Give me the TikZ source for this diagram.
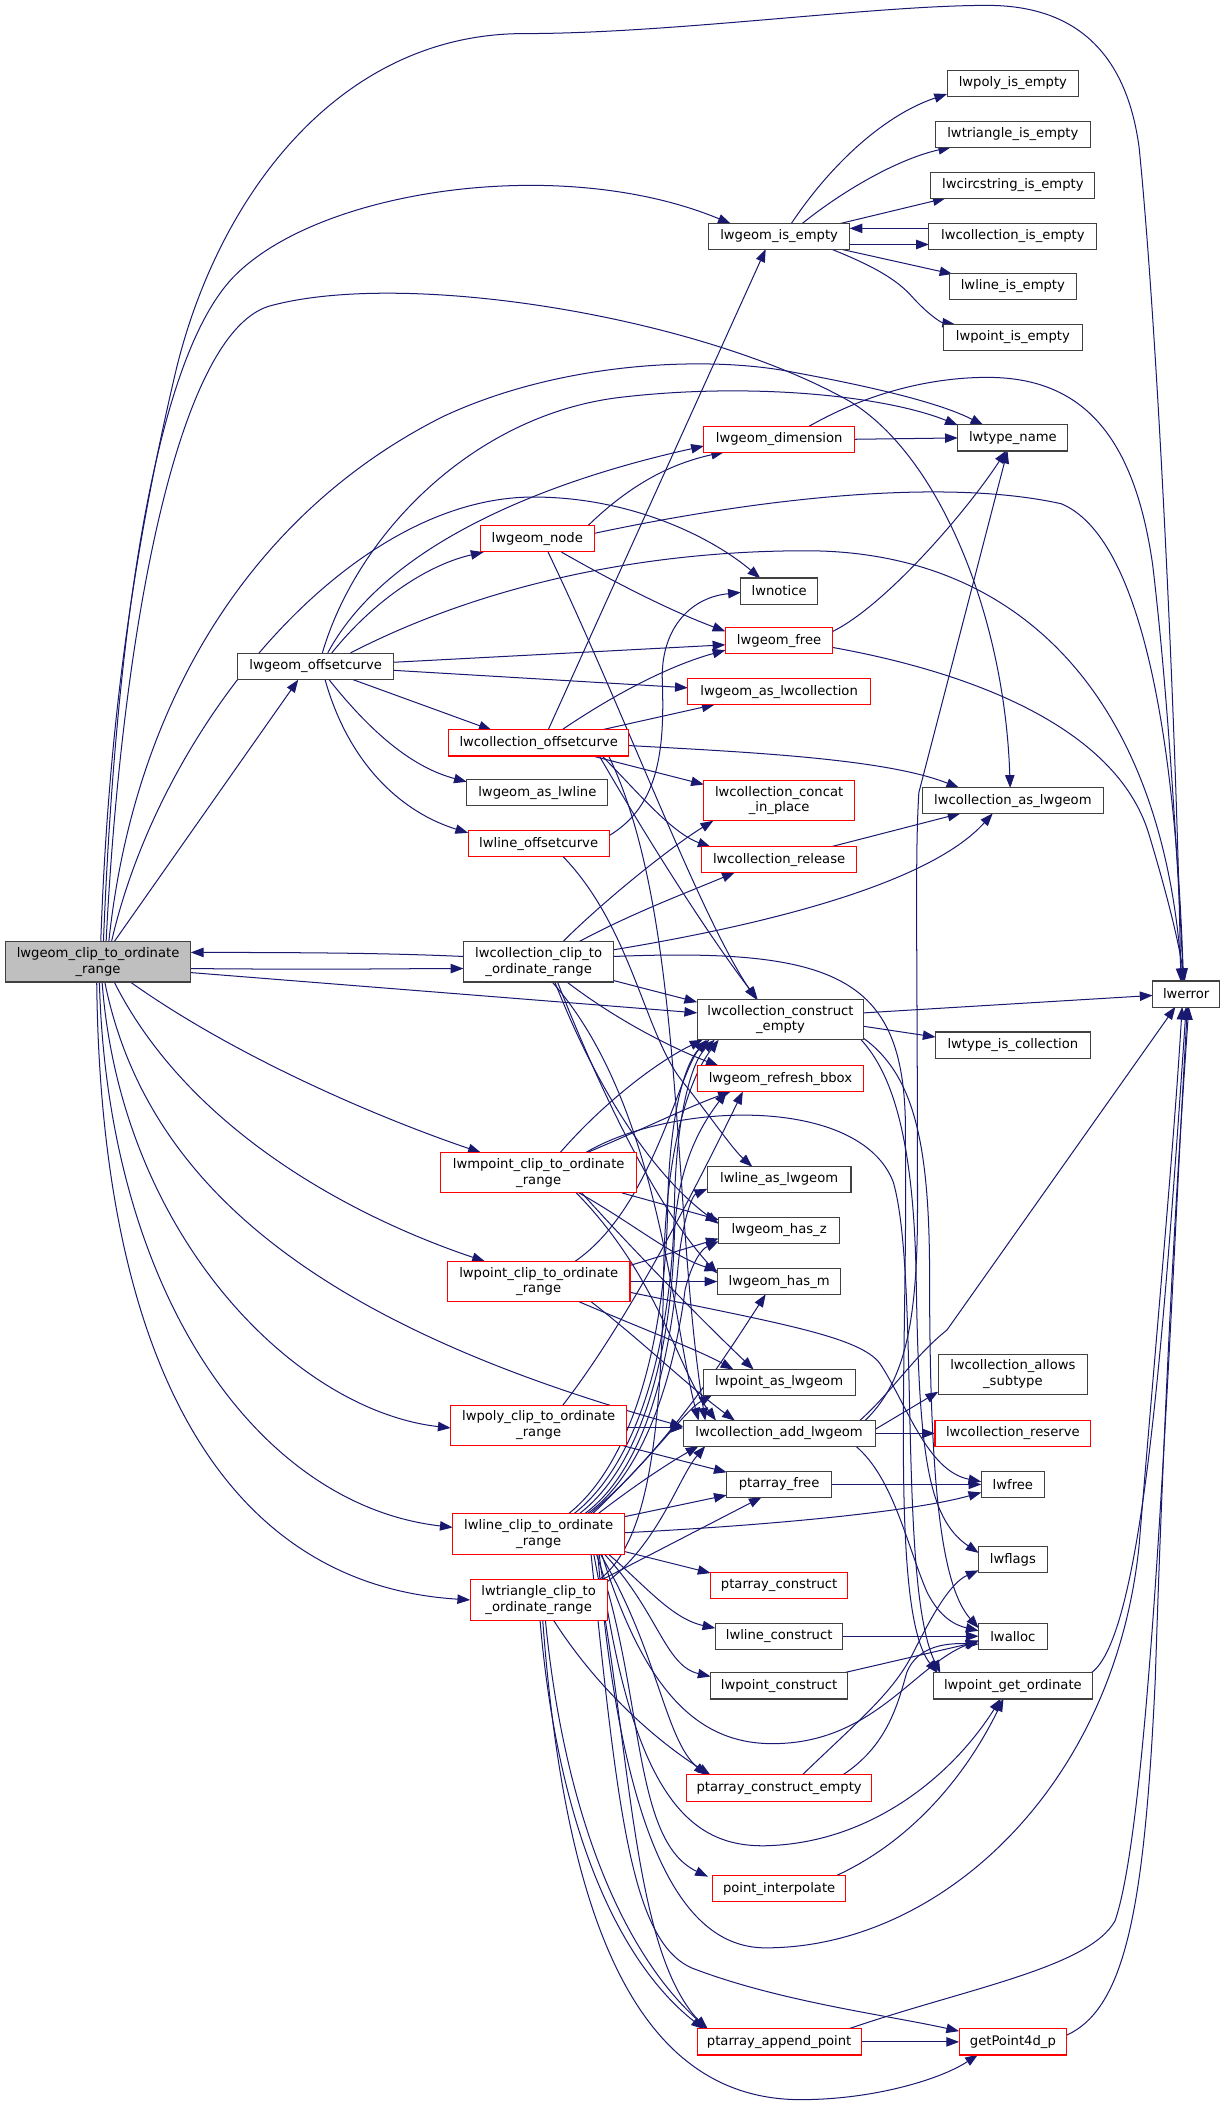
\documentclass[tikz,border=0pt]{standalone}
\usepackage{fontspec}
\setmainfont{DejaVu Sans}
\usetikzlibrary{arrows.meta,calc}
\definecolor{edgec}{HTML}{191970}
\definecolor{boxgray}{HTML}{404040}
\definecolor{boxred}{HTML}{FF0000}
\definecolor{rootfill}{HTML}{BFBFBF}
\pgfdeclarelayer{bg}
\pgfsetlayers{bg,main}
\tikzset{
 fn/.style={font=\fontsize{9.8}{11.7}\selectfont},
 box/.style={draw=boxgray, line width=0.8pt, fill=white, inner sep=0pt, minimum height=19.5pt, align=center, fn},
 rbox/.style={box, draw=boxred},
 dbox/.style={box, minimum height=30pt},
 drbox/.style={rbox, minimum height=30pt},
 ed/.style={draw=edgec, line width=0.75pt, -{Triangle[length=9.5pt,width=7pt]}},
}
\begin{document}
\begin{tikzpicture}[x=1pt,y=-1pt]
\useasboundingbox (0,0) rectangle (912,1567);
% column 1-3
\node[dbox, fill=rootfill, minimum width=138pt] (root) at (73,716) {lwgeom\_clip\_to\_ordinate\\\_range};
\node[box, minimum width=116pt] (off) at (235,496) {lwgeom\_offsetcurve};
\node[rbox, minimum width=85pt] (lnode) at (400,401) {lwgeom\_node};
\node[rbox, minimum width=134pt] (coff) at (401,553) {lwcollection\_offsetcurve};
\node[box, minimum width=105pt] (aslwline) at (400,590) {lwgeom\_as\_lwline};
\node[rbox, minimum width=105pt] (loff) at (401,628) {lwline\_offsetcurve};
\node[dbox, minimum width=112pt] (cclip) at (401,716) {lwcollection\_clip\_to\\\_ordinate\_range};
\node[drbox, minimum width=146pt] (mpclip) at (401,873) {lwmpoint\_clip\_to\_ordinate\\\_range};
\node[drbox, minimum width=136pt] (pclip) at (401,954) {lwpoint\_clip\_to\_ordinate\\\_range};
\node[drbox, minimum width=131pt] (polyclip) at (401,1061) {lwpoly\_clip\_to\_ordinate\\\_range};
\node[drbox, minimum width=128pt] (lclip) at (401,1142) {lwline\_clip\_to\_ordinate\\\_range};
\node[drbox, minimum width=102pt] (tclip) at (401,1191) {lwtriangle\_clip\_to\\\_ordinate\_range};
% column 4
\node[box, minimum width=105pt] (isempty) at (580,176) {lwgeom\_is\_empty};
\node[rbox, minimum width=112pt] (dim) at (580,327) {lwgeom\_dimension};
\node[box, minimum width=57pt] (notice) at (580,440) {lwnotice};
\node[rbox, minimum width=80pt] (free) at (580,477) {lwgeom\_free};
\node[rbox, minimum width=136pt] (aslwcoll) at (580,515) {lwgeom\_as\_lwcollection};
\node[drbox, minimum width=112pt] (concat) at (580,596) {lwcollection\_concat\\\_in\_place};
\node[rbox, minimum width=115pt] (release) at (580,640) {lwcollection\_release};
\node[dbox, minimum width=124pt] (cce) at (581,759) {lwcollection\_construct\\\_empty};
\node[rbox, minimum width=124pt] (refresh) at (581,803) {lwgeom\_refresh\_bbox};
\node[box, minimum width=107pt] (llasg) at (580,878) {lwline\_as\_lwgeom};
\node[box, minimum width=90pt] (hasz) at (580,916) {lwgeom\_has\_z};
\node[box, minimum width=92pt] (hasm) at (580,954) {lwgeom\_has\_m};
\node[box, minimum width=113pt] (pasg) at (580,1029) {lwpoint\_as\_lwgeom};
\node[box, minimum width=143pt] (addg) at (580,1067) {lwcollection\_add\_lwgeom};
\node[box, minimum width=78pt] (pfree) at (580,1105) {ptarray\_free};
\node[rbox, minimum width=102pt] (pconst) at (580,1180) {ptarray\_construct};
\node[box, minimum width=95pt] (lconst) at (580,1218) {lwline\_construct};
\node[box, minimum width=102pt] (ptconst) at (580,1255) {lwpoint\_construct};
\node[rbox, minimum width=138pt] (pce) at (580,1331) {ptarray\_construct\_empty};
\node[rbox, minimum width=99pt] (pinterp) at (580,1406) {point\_interpolate};
\node[rbox, minimum width=122pt] (pappend) at (580,1520) {ptarray\_append\_point};
% column 5
\node[box, minimum width=98pt] (polye) at (754,62) {lwpoly\_is\_empty};
\node[box, minimum width=115pt] (trie) at (754,100) {lwtriangle\_is\_empty};
\node[box, minimum width=122pt] (circe) at (754,138) {lwcircstring\_is\_empty};
\node[box, minimum width=125pt] (colle) at (754,176) {lwcollection\_is\_empty};
\node[box, minimum width=95pt] (linee) at (754,213) {lwline\_is\_empty};
\node[box, minimum width=103pt] (pointe) at (754,251) {lwpoint\_is\_empty};
\node[box, minimum width=82pt] (tname) at (754,326) {lwtype\_name};
\node[box, minimum width=135pt] (cas) at (754,596) {lwcollection\_as\_lwgeom};
\node[box, minimum width=115pt] (typecoll) at (754,778) {lwtype\_is\_collection};
\node[dbox, minimum width=111pt] (allows) at (754,1023) {lwcollection\_allows\\\_subtype};
\node[rbox, minimum width=116pt] (reserve) at (754,1067) {lwcollection\_reserve};
\node[box, minimum width=47pt] (lwfree) at (754,1105) {lwfree};
\node[box, minimum width=51pt] (lwflags) at (754,1161) {lwflags};
\node[box, minimum width=51pt] (lwalloc) at (754,1218) {lwalloc};
\node[box, minimum width=118pt] (getord) at (754,1255) {lwpoint\_get\_ordinate};
\node[rbox, minimum width=80pt] (g4d) at (754,1520) {getPoint4d\_p};
\node[box, minimum width=50pt] (lwerror) at (883,740) {lwerror};

\begin{pgfonlayer}{bg}
% root
\draw[ed] ($(root)+(2,-15)$) .. controls (80,560) and (95,430) .. (130,280) .. controls (160,150) and (250,25) .. (390,25) .. controls (500,25) and (650,4) .. (735,4) .. controls (810,4) and (840,50) .. (848,110) .. controls (862,250) and (876,550) .. ($(lwerror)+(-4,-9.5)$);
\draw[ed] ($(root)+(4,-15)$) .. controls (85,500) and (110,270) .. (175,205) .. controls (240,140) and (420,115) .. ($(isempty)+(-36,-9.5)$);
\draw[ed] ($(root)+(6,-15)$) .. controls (90,480) and (130,250) .. (200,228) .. controls (300,200) and (520,235) .. (633,299) .. controls (700,340) and (748,460) .. ($(cas)+(-2,-9.5)$);
\draw[ed] ($(root)+(8,-15)$) .. controls (100,520) and (190,380) .. (330,310) .. controls (420,268) and (530,265) .. (590,277) .. controls (650,288) and (700,300) .. ($(tname)+(-22,-9.5)$);
\draw[ed] ($(root)+(10,-15)$) .. controls (120,540) and (260,370) .. (397,370) .. controls (470,370) and (530,400) .. ($(notice)+(-14,-9.5)$);
\draw[ed] ($(root)+(12,-15)$) -- ($(off)+(-13,10)$);
\draw[ed] ($(root)+(69,5)$) .. controls (250,722) and (300,721) .. ($(cclip)+(-56,5)$);
\draw[ed] ($(cclip)+(-56,-4)$) .. controls (300,710) and (250,709) .. ($(root)+(69,-7)$);
\draw[ed] ($(root)+(69,8)$) -- ($(cce)+(-62,-5)$);
\draw[ed] ($(root)+(24,15)$) .. controls (180,790) and (290,835) .. ($(mpclip)+(-43,-15)$);
\draw[ed] ($(root)+(12,15)$) .. controls (140,840) and (260,905) .. ($(pclip)+(-40,-15)$);
\draw[ed] ($(root)+(5,15)$) .. controls (110,890) and (250,990) .. ($(addg)+(-71.5,-5)$);
\draw[ed] ($(root)+(3,15)$) .. controls (90,920) and (220,1050) .. ($(polyclip)+(-65.5,2)$);
\draw[ed] ($(root)+(1,15)$) .. controls (80,960) and (190,1120) .. ($(lclip)+(-64,-5)$);
\draw[ed] ($(root)+(-1,15)$) .. controls (75,1020) and (170,1180) .. ($(tclip)+(-51,0)$);
% offsetcurve
\draw[ed] ($(off)+(5,-10)$) .. controls (265,400) and (350,310) .. (460,296) .. controls (560,284) and (660,295) .. ($(tname)+(-41,-9.5)$);
\draw[ed] ($(off)+(9,-10)$) .. controls (290,400) and (420,355) .. ($(dim)+(-56,5)$);
\draw[ed] ($(off)+(12,-10)$) .. controls (280,445) and (320,420) .. ($(lnode)+(-40,10)$);
\draw[ed] ($(off)+(26,-10)$) .. controls (360,435) and (480,410) .. (600,410) .. controls (760,410) and (865,520) .. ($(lwerror)+(-3,-9.5)$);
\draw[ed] ($(off)+(58,-3)$) -- ($(free)+(-40,3)$);
\draw[ed] ($(off)+(58,3)$) -- ($(aslwcoll)+(-68,-3)$);
\draw[ed] ($(off)+(28,10)$) -- ($(coff)+(-35,-9.5)$);
\draw[ed] ($(off)+(10,10)$) .. controls (280,550) and (310,572) .. ($(aslwline)+(-52.5,-8)$);
\draw[ed] ($(off)+(7,10)$) .. controls (260,570) and (300,605) .. ($(loff)+(-52.5,-8)$);
% lwgeom_node
\draw[ed] ($(lnode)+(38,-10)$) .. controls (470,360) and (500,345) .. ($(dim)+(-41,9.5)$);
\draw[ed] ($(lnode)+(42.5,-4)$) .. controls (560,372) and (700,355) .. (790,375) .. controls (850,400) and (875,550) .. ($(lwerror)+(-2,-9.5)$);
\draw[ed] ($(lnode)+(18,10)$) .. controls (460,435) and (500,455) .. ($(free)+(-40,-7)$);
\draw[ed] ($(lnode)+(8,10)$) .. controls (465,530) and (520,680) .. ($(cce)+(-18,-15)$);
% lwcollection_offsetcurve
\draw[ed] ($(coff)+(7,-9.5)$) -- ($(isempty)+(-10,9.5)$);
\draw[ed] ($(coff)+(17,-9.5)$) .. controls (460,515) and (500,495) .. ($(free)+(-40,7)$);
\draw[ed] ($(coff)+(46,-9.5)$) -- ($(aslwcoll)+(-48,9.5)$);
\draw[ed] ($(coff)+(67,2)$) .. controls (560,560) and (660,565) .. ($(cas)+(-40,-9.5)$);
\draw[ed] ($(coff)+(39,9.5)$) -- ($(concat)+(-56,-12)$);
\draw[ed] ($(coff)+(47,9.5)$) .. controls (475,590) and (500,620) .. ($(release)+(-51,-9.5)$);
\draw[ed] ($(coff)+(45,9.5)$) .. controls (485,630) and (530,700) .. ($(cce)+(-17,-15)$);
\draw[ed] ($(coff)+(52,9.5)$) .. controls (510,680) and (500,900) .. ($(addg)+(-55,-9.5)$);
% lwline_offsetcurve
\draw[ed] ($(loff)+(52.5,-6)$) .. controls (490,600) and (495,560) .. (493,506) .. controls (492,470) and (512,445) .. ($(notice)+(-28.5,1)$);
\draw[ed] ($(loff)+(18,9.5)$) .. controls (470,690) and (480,770) .. (508,805) .. controls (528,830) and (545,855) .. ($(llasg)+(-20,-9.5)$);
% lwcollection_clip_to
\draw[ed] ($(cclip)+(18,-15)$) .. controls (450,670) and (500,630) .. ($(concat)+(-49,15)$);
\draw[ed] ($(cclip)+(30,-15)$) .. controls (470,680) and (510,665) .. ($(release)+(-33,9.5)$);
\draw[ed] ($(cclip)+(56,-9)$) .. controls (560,690) and (690,660) .. ($(cas)+(-15,9.5)$);
\draw[ed] ($(cclip)+(56,-4)$) .. controls (630,705) and (676,730) .. (674,850) .. controls (676,1000) and (662,1200) .. ($(getord)+(-56,-9.5)$);
\draw[ed] ($(cclip)+(56,14)$) -- ($(cce)+(-62,-13)$);
\draw[ed] ($(cclip)+(21,15)$) .. controls (460,760) and (500,780) .. ($(refresh)+(-46,-9.5)$);
\draw[ed] ($(cclip)+(12,15)$) .. controls (440,800) and (480,870) .. ($(hasz)+(-45,-5)$);
\draw[ed] ($(cclip)+(14,15)$) .. controls (450,820) and (490,900) .. ($(hasm)+(-46,-6)$);
\draw[ed] ($(cclip)+(10,15)$) .. controls (490,820) and (500,980) .. ($(addg)+(-60,-9.5)$);
% lwmpoint_clip
\draw[ed] ($(mpclip)+(16,-15)$) .. controls (450,820) and (490,790) .. ($(cce)+(-58,15)$);
\draw[ed] ($(mpclip)+(36,-15)$) .. controls (480,840) and (510,825) .. ($(refresh)+(-37,9.5)$);
\draw[ed] ($(mpclip)+(35,-15)$) .. controls (500,820) and (640,815) .. (665,880) .. controls (685,950) and (668,1180) .. ($(getord)+(-54,-9.5)$);
\draw[ed] ($(mpclip)+(62,15)$) -- ($(hasz)+(-45,-8)$);
\draw[ed] ($(mpclip)+(30,15)$) .. controls (470,910) and (500,935) .. ($(hasm)+(-46,-8)$);
\draw[ed] ($(mpclip)+(32,15)$) .. controls (480,940) and (530,990) .. ($(pasg)+(-19,-9.5)$);
\draw[ed] ($(mpclip)+(28,15)$) .. controls (490,950) and (505,1020) .. ($(addg)+(-47,-9.5)$);
% lwpoint_clip
\draw[ed] ($(pclip)+(27,-15)$) .. controls (485,900) and (505,800) .. ($(cce)+(-55,15)$);
\draw[ed] ($(pclip)+(68,-12)$) -- ($(hasz)+(-45,6)$);
\draw[ed] ($(pclip)+(68,0)$) -- ($(hasm)+(-46,0)$);
\draw[ed] ($(pclip)+(30,15)$) .. controls (480,990) and (520,1005) .. ($(pasg)+(-34,-9.5)$);
\draw[ed] ($(pclip)+(39,15)$) .. controls (480,1000) and (510,1030) .. ($(addg)+(-33,-9.5)$);
\draw[ed] ($(pclip)+(68,8)$) .. controls (580,985) and (640,995) .. (655,1015) .. controls (675,1045) and (690,1095) .. ($(lwfree)+(-23.5,-2)$);
% lwpoly_clip
\draw[ed] ($(polyclip)+(18,-15)$) .. controls (470,980) and (520,880) .. ($(refresh)+(-28,9.5)$);
\draw[ed] ($(polyclip)+(65.5,2)$) -- ($(addg)+(-71.5,-4)$);
\draw[ed] ($(polyclip)+(62,15)$) -- ($(pfree)+(-39,-9)$);
% lwline_clip
\draw[ed] ($(lclip)+(22,-15)$) .. controls (470,1090) and (495,1000) .. (497,900) .. controls (498,830) and (510,790) .. ($(cce)+(-53,15)$);
\draw[ed] ($(lclip)+(26,-15)$) .. controls (475,1090) and (500,1000) .. (502,900) .. controls (503,830) and (515,790) .. ($(cce)+(-49,15)$);
\draw[ed] ($(lclip)+(30,-15)$) .. controls (480,1090) and (500,1000) .. (502,920) .. controls (504,870) and (520,840) .. ($(refresh)+(-40,9.5)$);
\draw[ed] ($(lclip)+(34,-15)$) .. controls (485,1090) and (500,1000) .. (505,940) .. controls (508,910) and (515,890) .. ($(llasg)+(-53.5,7)$);
\draw[ed] ($(lclip)+(36,-15)$) .. controls (488,1090) and (505,1000) .. (510,960) .. controls (515,940) and (522,930) .. ($(hasz)+(-45,8)$);
\draw[ed] ($(lclip)+(38,-15)$) .. controls (495,1080) and (540,1010) .. ($(hasm)+(-10,9.5)$);
\draw[ed] ($(lclip)+(40,-15)$) .. controls (490,1080) and (510,1050) .. ($(pasg)+(-50,9.5)$);
\draw[ed] ($(lclip)+(44,-15)$) .. controls (480,1100) and (505,1085) .. ($(addg)+(-60,9.5)$);
\draw[ed] ($(lclip)+(64,-13)$) -- ($(pfree)+(-39,8)$);
\draw[ed] ($(lclip)+(64,-1)$) .. controls (580,1135) and (680,1125) .. ($(lwfree)+(-23.5,6)$);
\draw[ed] ($(lclip)+(64,13)$) -- ($(pconst)+(-51,-9)$);
\draw[ed] ($(lclip)+(52,15)$) .. controls (480,1180) and (500,1205) .. ($(lconst)+(-47.5,-6)$);
\draw[ed] ($(lclip)+(49,15)$) .. controls (490,1200) and (495,1240) .. ($(ptconst)+(-51,-7)$);
\draw[ed] ($(lclip)+(46,15)$) .. controls (490,1230) and (495,1295) .. ($(pce)+(-54,-9.5)$);
\draw[ed] ($(lclip)+(43,15)$) .. controls (480,1260) and (470,1370) .. ($(pinterp)+(-53,-9)$);
\draw[ed] ($(lclip)+(41,15)$) .. controls (470,1300) and (470,1450) .. ($(pappend)+(-54,-9.5)$);
\draw[ed] ($(lclip)+(39,15)$) .. controls (460,1350) and (470,1445) .. (515,1465) .. controls (580,1490) and (660,1500) .. ($(g4d)+(-40,-8)$);
\draw[ed] ($(lclip)+(47,15)$) .. controls (480,1260) and (520,1298) .. (575,1298) .. controls (650,1298) and (680,1240) .. ($(lwalloc)+(-25.5,3)$);
\draw[ed] ($(lclip)+(45,15)$) .. controls (470,1340) and (515,1375) .. (570,1374) .. controls (650,1372) and (710,1320) .. ($(getord)+(-9,9.5)$);
\draw[ed] ($(lclip)+(44,15)$) .. controls (465,1400) and (520,1450) .. (570,1450) .. controls (700,1450) and (830,1330) .. (848,1150) .. controls (862,980) and (874,850) .. ($(lwerror)+(-3,9.5)$);
% lwtriangle_clip
\draw[ed] ($(tclip)+(45,-15)$) .. controls (480,1150) and (492,1080) .. (494,950) .. controls (495,850) and (515,800) .. ($(cce)+(-46,15)$);
\draw[ed] ($(tclip)+(49,-12)$) .. controls (490,1150) and (505,1100) .. ($(addg)+(-55,9.5)$);
\draw[ed] ($(tclip)+(47,-15)$) -- ($(pfree)+(-13,9.5)$);
\draw[ed] ($(tclip)+(11,15)$) .. controls (440,1250) and (480,1290) .. ($(pce)+(-51,-9.5)$);
\draw[ed] ($(tclip)+(1,15)$) .. controls (415,1360) and (460,1460) .. ($(pappend)+(-56,-9.5)$);
\draw[ed] ($(tclip)+(5,15)$) .. controls (421,1360) and (468,1458) .. ($(pappend)+(-53,-9.5)$);
\draw[ed] ($(tclip)+(3,15)$) .. controls (420,1420) and (470,1563) .. (596,1563) .. controls (650,1563) and (700,1548) .. ($(g4d)+(-26,9.5)$);
% lwgeom_is_empty
\draw[ed] ($(isempty)+(9,-9.5)$) .. controls (620,120) and (660,85) .. ($(polye)+(-49,8)$);
\draw[ed] ($(isempty)+(17,-9.5)$) .. controls (630,140) and (670,118) .. ($(trie)+(-46,9.5)$);
\draw[ed] ($(isempty)+(45,-9.5)$) -- ($(circe)+(-50,9.5)$);
\draw[ed] ($(isempty)+(52.5,6)$) -- ($(colle)+(-62.5,6)$);
\draw[ed] ($(colle)+(-62.5,-6)$) -- ($(isempty)+(52.5,-6)$);
\draw[ed] ($(isempty)+(46,9.5)$) -- ($(linee)+(-45,-9)$);
\draw[ed] ($(isempty)+(39,9.5)$) .. controls (650,198) and (668,208) .. (680,222) .. controls (690,233) and (700,240) .. ($(pointe)+(-43,-9.5)$);
% dimension, free, release
\draw[ed] ($(dim)+(56,0)$) -- ($(tname)+(-41,0)$);
\draw[ed] ($(dim)+(22,-9.5)$) .. controls (650,290) and (700,280) .. (740,281) .. controls (810,283) and (845,330) .. (858,420) .. controls (870,520) and (877,650) .. ($(lwerror)+(-2,-9.5)$);
\draw[ed] ($(free)+(40,-7)$) .. controls (660,450) and (720,380) .. ($(tname)+(-5,9.5)$);
\draw[ed] ($(free)+(40,5)$) .. controls (720,500) and (830,540) .. (855,620) .. controls (870,670) and (877,700) .. ($(lwerror)+(-1,-9.5)$);
\draw[ed] ($(release)+(38,-9.5)$) -- ($(cas)+(-39,9.5)$);
% construct_empty
\draw[ed] ($(cce)+(62,-5)$) -- ($(lwerror)+(-25,1)$);
\draw[ed] ($(cce)+(62,5)$) -- ($(typecoll)+(-57.5,-6)$);
\draw[ed] ($(cce)+(60,15)$) .. controls (665,800) and (680,850) .. (682,950) .. controls (684,1080) and (690,1130) .. ($(lwflags)+(-25.5,-5)$);
\draw[ed] ($(cce)+(62,14)$) .. controls (680,800) and (692,850) .. (692,950) .. controls (692,1100) and (700,1180) .. ($(lwalloc)+(-25.5,-6)$);
% add_lwgeom
\draw[ed] ($(addg)+(60,-9.5)$) .. controls (665,1035) and (680,1010) .. (705,990) -- ($(lwerror)+(-8,9.5)$);
\draw[ed] ($(addg)+(71.5,-3)$) -- ($(allows)+(-55.5,13)$);
\draw[ed] ($(addg)+(71.5,0)$) -- ($(reserve)+(-58,0)$);
\draw[ed] ($(addg)+(64,-9.5)$) .. controls (672,1030) and (683,990) .. (683,900) .. controls (683,700) and (681,640) .. (684,590) -- ($(tname)+(-4,9.5)$);
\draw[ed] ($(addg)+(57,9.5)$) .. controls (665,1100) and (675,1150) .. (690,1185) .. controls (700,1205) and (712,1210) .. ($(lwalloc)+(-25.5,-4)$);
% lower column 4
\draw[ed] ($(pfree)+(39,0)$) -- ($(lwfree)+(-23.5,0)$);
\draw[ed] ($(lconst)+(47.5,0)$) -- ($(lwalloc)+(-25.5,0)$);
\draw[ed] ($(ptconst)+(47,-9.5)$) -- ($(lwalloc)+(-25.5,4)$);
\draw[ed] ($(pce)+(17,-9.5)$) .. controls (640,1280) and (665,1260) .. (680,1230) .. controls (695,1200) and (708,1178) .. ($(lwflags)+(-25.5,8)$);
\draw[ed] ($(pce)+(47,-9.5)$) .. controls (660,1300) and (668,1270) .. (675,1245) .. controls (683,1225) and (705,1223) .. ($(lwalloc)+(-25.5,6)$);
\draw[ed] ($(pinterp)+(42,-9.5)$) .. controls (680,1370) and (720,1320) .. ($(getord)+(-7,9.5)$);
\draw[ed] ($(pappend)+(61,0)$) -- ($(g4d)+(-40,0)$);
\draw[ed] ($(pappend)+(51,-9.5)$) .. controls (720,1480) and (810,1465) .. (830,1430) .. controls (858,1350) and (872,950) .. ($(lwerror)+(1,9.5)$);
\draw[ed] ($(g4d)+(40,-5)$) .. controls (838,1495) and (852,1420) .. (860,1250) .. controls (868,1000) and (878,850) .. ($(lwerror)+(2,9.5)$);
\draw[ed] ($(getord)+(58,-9.5)$) .. controls (850,1220) and (866,1000) .. ($(lwerror)+(0,9.5)$);
\end{pgfonlayer}
\end{tikzpicture}
\end{document}
